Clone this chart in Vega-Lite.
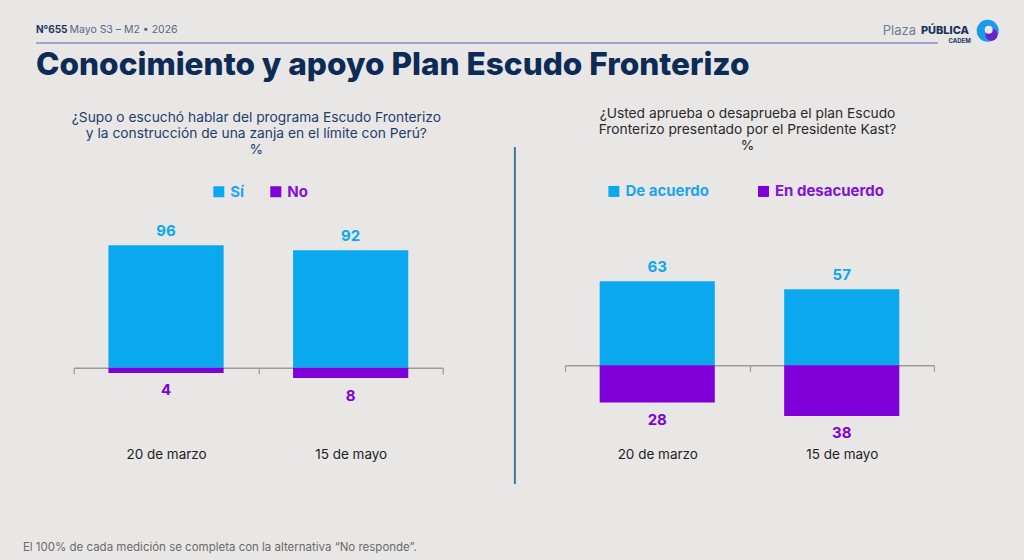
{
  "$schema": "https://vega.github.io/schema/vega-lite/v6.json",
  "background": "#e8e7e5",
  "padding": {"left": 22.7, "top": 19, "right": 26, "bottom": 7},
  "config": {
    "font": "Inter",
    "view": {"stroke": null},
    "axis": {"labelFont": "Inter", "titleFont": "Inter"},
    "legend": {"labelFont": "Inter"}
  },
  "datasets": {
    "conocimiento": [
      {"medicion": "20 de marzo", "respuesta": "Sí", "pct": 96},
      {"medicion": "20 de marzo", "respuesta": "No", "pct": 4},
      {"medicion": "15 de mayo", "respuesta": "Sí", "pct": 92},
      {"medicion": "15 de mayo", "respuesta": "No", "pct": 8}
    ],
    "apoyo": [
      {"medicion": "20 de marzo", "respuesta": "De acuerdo", "pct": 63},
      {"medicion": "20 de marzo", "respuesta": "En desacuerdo", "pct": 28},
      {"medicion": "15 de mayo", "respuesta": "De acuerdo", "pct": 57},
      {"medicion": "15 de mayo", "respuesta": "En desacuerdo", "pct": 38}
    ]
  },
  "title": {
    "text": "El 100% de cada medición se completa con la alternativa “No responde”.",
    "orient": "bottom",
    "anchor": "start",
    "font": "Inter",
    "fontSize": 11.5,
    "fontWeight": 400,
    "color": "#6a6a6a",
    "offset": 59,
    "dx": -12.3
  },
  "spacing": 5.5,
  "vconcat": [
    {
      "width": 864.3,
      "height": 1,
      "layer": [
        {
          "data": {"values": [{"linea": "encabezado"}]},
          "mark": {"type": "rule", "color": "#8b8ec6", "strokeWidth": 1.5, "xOffset": -37.7},
          "encoding": {"x": {"value": 0}, "x2": {"value": "width"}, "y": {"value": 1}}
        },
        {
          "data": {"values": [{"t": "N°655"}]},
          "mark": {"type": "text", "align": "left", "baseline": "middle", "fontSize": 10, "fontWeight": 700, "color": "#1d3562", "dx": -37.7, "dy": -12.1},
          "encoding": {"text": {"field": "t"}, "x": {"value": 0}}
        },
        {
          "data": {"values": [{"t": "Mayo S3 – M2 • 2026"}]},
          "mark": {"type": "text", "align": "left", "baseline": "middle", "fontSize": 10.5, "fontWeight": 400, "color": "#56678a", "dx": -4.2, "dy": -12.1},
          "encoding": {"text": {"field": "t"}, "x": {"value": 0}}
        },
        {
          "data": {"values": [{"t": "PÚBLICA"}]},
          "mark": {"type": "text", "align": "right", "baseline": "middle", "fontSize": 11, "fontWeight": 800, "color": "#1b3360", "dx": 31, "dy": -12},
          "encoding": {"text": {"field": "t"}, "x": {"value": "width"}}
        },
        {
          "data": {"values": [{"t": "Plaza"}]},
          "mark": {"type": "text", "align": "right", "baseline": "middle", "fontSize": 13, "fontWeight": 400, "color": "#6e7d95", "dx": -22, "dy": -12},
          "encoding": {"text": {"field": "t"}, "x": {"value": "width"}}
        },
        {
          "data": {"values": [{"t": "CADEM"}]},
          "mark": {"type": "text", "align": "center", "baseline": "middle", "fontSize": 6, "fontWeight": 700, "color": "#1b3360", "dx": 21.7, "dy": -1.8},
          "encoding": {"text": {"field": "t"}, "x": {"value": "width"}}
        },
        {
          "data": {"values": [{"icono": "anillo"}]},
          "mark": {"type": "point", "shape": "circle", "filled": true, "size": 484, "color": "#1d9ae6", "opacity": 1, "xOffset": 49.7, "yOffset": -11.8},
          "encoding": {"x": {"value": "width"}}
        },
        {
          "data": {"values": [{"icono": "cola"}]},
          "mark": {"type": "point", "shape": "circle", "filled": true, "size": 150, "color": "#6d22c9", "opacity": 1, "xOffset": 53.5, "yOffset": -7.8},
          "encoding": {"x": {"value": "width"}}
        },
        {
          "data": {"values": [{"icono": "centro"}]},
          "mark": {"type": "point", "shape": "circle", "filled": true, "size": 64, "color": "#e8e7e5", "opacity": 1, "xOffset": 50.7, "yOffset": -12.8},
          "encoding": {"x": {"value": "width"}}
        }
      ]
    },
    {
      "title": {
        "text": "Conocimiento y apoyo Plan Escudo Fronterizo",
        "anchor": "start",
        "font": "Inter",
        "fontSize": 31.6,
        "fontWeight": 800,
        "color": "#0d2b57",
        "offset": 25.5
      },
      "bounds": "flush",
      "spacing": 121.3,
      "resolve": {
        "scale": {"x": "independent", "y": "independent", "color": "independent"},
        "legend": {"color": "independent"},
        "axis": {"x": "independent", "y": "independent"}
      },
      "hconcat": [
        {
          "width": 369.3,
          "height": 337,
          "title": {
            "text": [
              "¿Supo o escuchó hablar del programa Escudo Fronterizo",
              "y la construcción de una zanja en el límite con Perú?",
              "%"
            ],
            "anchor": "middle",
            "frame": "group",
            "font": "Inter",
            "fontSize": 13.8,
            "fontWeight": 400,
            "lineHeight": 16.3,
            "color": "#1f3d6b",
            "offset": -10.5,
            "dx": -2
          },
          "data": {"name": "conocimiento"},
          "transform": [
            {"calculate": "datum.respuesta == 'No' ? -datum.pct : datum.pct", "as": "pos"}
          ],
          "encoding": {
            "x": {
              "field": "medicion",
              "type": "nominal",
              "sort": null,
              "scale": {"paddingInner": 0, "paddingOuter": 0},
              "axis": {
                "orient": "bottom",
                "offset": -115.7,
                "title": null,
                "domainColor": "#9c9c9c",
                "domainWidth": 1.5,
                "tickColor": "#9c9c9c",
                "tickWidth": 1.2,
                "tickSize": 6,
                "tickBand": "extent",
                "labelAngle": 0,
                "labelBaseline": "middle",
                "labelPadding": 80.7,
                "labelFontSize": 13.5,
                "labelColor": "#1e1e1e",
                "grid": false
              }
            },
            "color": {
              "field": "respuesta",
              "type": "nominal",
              "scale": {"domain": ["Sí", "No"], "range": ["#0aa8ef", "#7f00d9"]},
              "legend": {
                "orient": "none",
                "legendX": 137.6,
                "legendY": 37.5,
                "direction": "horizontal",
                "title": null,
                "symbolType": "square",
                "symbolSize": 121,
                "symbolStrokeWidth": 0,
                "symbolOpacity": 1,
                "labelFontSize": 15,
                "labelFontWeight": "bold",
                "labelOffset": 4,
                "columnPadding": 24,
                "encode": {
                  "labels": {"update": {"fill": {"signal": "datum.value === 'Sí' ? '#1da6ec' : '#8211d8'"}}}
                }
              }
            }
          },
          "layer": [
            {
              "mark": {"type": "bar", "width": {"band": 0.624}},
              "encoding": {
                "y": {
                  "field": "pos",
                  "type": "quantitative",
                  "stack": null,
                  "scale": {"domain": [-90.6, 173.3], "nice": false, "zero": false},
                  "axis": {
                    "orient": "left",
                    "offset": 37.7,
                    "domainColor": "transparent",
                    "ticks": false,
                    "labels": false,
                    "grid": false,
                    "title": null
                  }
                }
              }
            },
            {
              "transform": [{"filter": "datum.pos >= 0"}],
              "mark": {"type": "text", "baseline": "middle", "fontSize": 15, "fontWeight": "bold", "dy": -14.5},
              "encoding": {
                "y": {"field": "pos", "type": "quantitative"},
                "text": {"field": "pct", "type": "quantitative"}
              }
            },
            {
              "transform": [{"filter": "datum.pos < 0"}],
              "mark": {"type": "text", "baseline": "middle", "fontSize": 15, "fontWeight": "bold", "dy": 17.5},
              "encoding": {
                "y": {"field": "pos", "type": "quantitative"},
                "text": {"field": "pct", "type": "quantitative"}
              }
            }
          ]
        },
        {
          "width": 369,
          "height": 337,
          "title": {
            "text": [
              "¿Usted aprueba o desaprueba el plan Escudo",
              "Fronterizo presentado por el Presidente Kast?",
              "%"
            ],
            "anchor": "middle",
            "frame": "group",
            "font": "Inter",
            "fontSize": 13.8,
            "fontWeight": 400,
            "lineHeight": 16.3,
            "color": "#2a2a2a",
            "offset": -6.5,
            "dx": -2
          },
          "data": {"name": "apoyo"},
          "transform": [
            {"calculate": "datum.respuesta == 'En desacuerdo' ? -datum.pct : datum.pct", "as": "pos"}
          ],
          "encoding": {
            "x": {
              "field": "medicion",
              "type": "nominal",
              "sort": null,
              "scale": {"paddingInner": 0, "paddingOuter": 0},
              "axis": {
                "orient": "bottom",
                "offset": -118.24,
                "title": null,
                "domainColor": "#9c9c9c",
                "domainWidth": 1.5,
                "tickColor": "#9c9c9c",
                "tickWidth": 1.2,
                "tickSize": 6,
                "tickBand": "extent",
                "labelAngle": 0,
                "labelBaseline": "middle",
                "labelPadding": 83.2,
                "labelFontSize": 13.5,
                "labelColor": "#1e1e1e",
                "grid": false
              }
            },
            "color": {
              "field": "respuesta",
              "type": "nominal",
              "scale": {"domain": ["De acuerdo", "En desacuerdo"], "range": ["#0aa8ef", "#7f00d9"]},
              "legend": {
                "orient": "none",
                "legendX": 41.4,
                "legendY": 37.2,
                "direction": "horizontal",
                "title": null,
                "symbolType": "square",
                "symbolSize": 121,
                "symbolStrokeWidth": 0,
                "symbolOpacity": 1,
                "labelFontSize": 15,
                "labelFontWeight": "bold",
                "labelOffset": 4,
                "columnPadding": 46.6,
                "encode": {
                  "labels": {"update": {"fill": {"signal": "datum.value === 'De acuerdo' ? '#1da6ec' : '#8211d8'"}}}
                }
              }
            }
          },
          "layer": [
            {
              "mark": {"type": "bar", "width": {"band": 0.624}},
              "encoding": {
                "y": {
                  "field": "pos",
                  "type": "quantitative",
                  "stack": null,
                  "scale": {"domain": [-88.7, 164.1], "nice": false, "zero": false},
                  "axis": {
                    "orient": "left",
                    "offset": 50.6,
                    "domainColor": "#3e7694",
                    "domainWidth": 2,
                    "ticks": false,
                    "labels": false,
                    "grid": false,
                    "title": null
                  }
                }
              }
            },
            {
              "transform": [{"filter": "datum.pos >= 0"}],
              "mark": {"type": "text", "baseline": "middle", "fontSize": 15, "fontWeight": "bold", "dy": -14.6},
              "encoding": {
                "y": {"field": "pos", "type": "quantitative"},
                "text": {"field": "pct", "type": "quantitative"}
              }
            },
            {
              "transform": [{"filter": "datum.pos < 0"}],
              "mark": {"type": "text", "baseline": "middle", "fontSize": 15, "fontWeight": "bold", "dy": 17.5},
              "encoding": {
                "y": {"field": "pos", "type": "quantitative"},
                "text": {"field": "pct", "type": "quantitative"}
              }
            }
          ]
        }
      ]
    }
  ]
}
